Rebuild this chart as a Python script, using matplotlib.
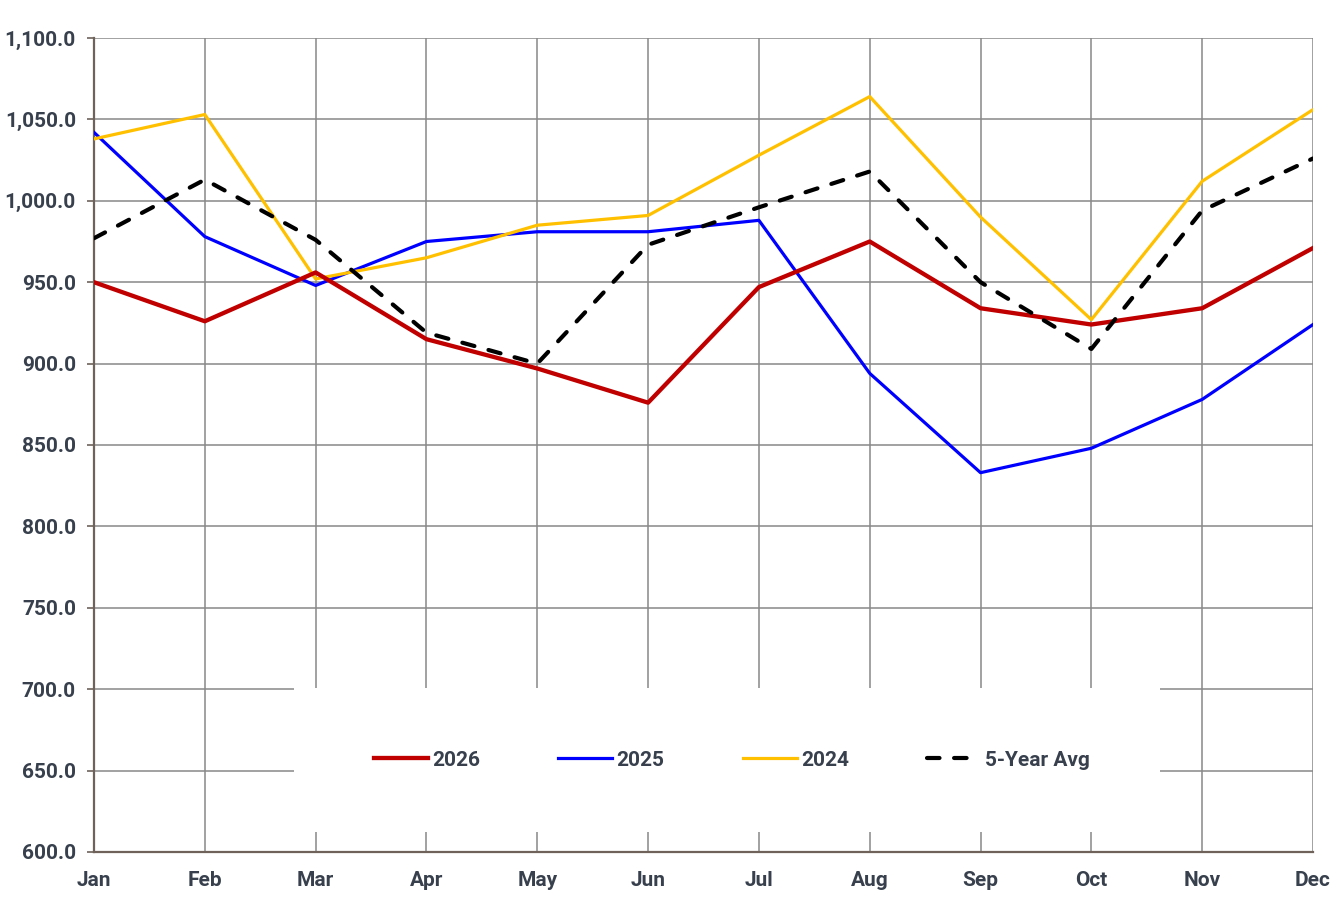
import matplotlib
matplotlib.use("Agg")
import matplotlib.pyplot as plt
from matplotlib.ticker import FuncFormatter, MultipleLocator
from matplotlib.patches import Rectangle

months = ["Jan", "Feb", "Mar", "Apr", "May", "Jun", "Jul", "Aug", "Sep", "Oct", "Nov", "Dec"]
s2026 = [950, 926, 956, 915, 897, 876, 947, 975, 934, 924, 934, 971]
s2025 = [1042, 978, 948, 975, 981, 981, 988, 894, 833, 848, 878, 924]
s2024 = [1038, 1053, 952, 965, 985, 991, 1028, 1064, 990, 927, 1012, 1056]
avg5 = [977, 1013, 976, 919, 900, 973, 996, 1018, 950, 909, 994, 1026]

plt.rcParams['font.family'] = ['Roboto', 'DejaVu Sans']
plt.rcParams['font.weight'] = 'bold'
txt = '#37404c'

fig = plt.figure(figsize=(13.43, 9.06), dpi=100)
ax = fig.add_axes([94/1343, 1-852/906, (1313-94)/1343, (852-38)/906])

x = list(range(len(months)))
ax.plot(x, s2026, color='#c00000', lw=3.1, label='2026', zorder=4, solid_joinstyle='round')
ax.plot(x, s2025, color='#0000ff', lw=2.3, label='2025', zorder=3, solid_joinstyle='round')
ax.plot(x, s2024, color='#ffc000', lw=2.3, label='2024', zorder=3, solid_joinstyle='round')
ax.plot(x, avg5, color='black', lw=3.0, linestyle=(0, (3, 3.5)), dash_capstyle='round',
        label='5-Year Avg', zorder=5)

ax.set_xlim(0, 11)
ax.set_ylim(600, 1100)
ax.set_xticks(x)
ax.set_xticklabels(months)
ax.yaxis.set_major_locator(MultipleLocator(50))
ax.yaxis.set_major_formatter(FuncFormatter(lambda v, p: f"{v:,.1f}"))

ax.grid(True, color='#888888', lw=1.1, zorder=0)
ax.set_axisbelow(True)
for s in ['top', 'right']:
    ax.spines[s].set_visible(False)
for s in ['left', 'bottom']:
    ax.spines[s].set_color('#6e625b')
    ax.spines[s].set_linewidth(1.6)

ax.tick_params(axis='y', length=5, width=1.2, color='#6e625b', pad=8, labelsize=15, labelcolor=txt)
ax.tick_params(axis='x', length=0, pad=14, labelsize=15, labelcolor=txt)
for lab in ax.get_xticklabels() + ax.get_yticklabels():
    lab.set_fontweight('bold')

# white legend background box
bx0, bx1 = (294-94)/1219, (1160-94)/1219
by0, by1 = (852-832)/814, (852-688)/814
ax.add_patch(Rectangle((bx0, by0), bx1-bx0, by1-by0, transform=ax.transAxes,
                       facecolor='white', edgecolor='none', zorder=6, clip_on=False))

leg = ax.legend(loc='center', bbox_to_anchor=((732-94)/1219, (852-760)/814), ncol=4,
                frameon=False, borderpad=0.5, handlelength=2.6, handletextpad=0.2,
                columnspacing=3.75, prop={'size': 15, 'weight': 'bold'})
for t in leg.get_texts():
    t.set_color(txt)
leg.set_zorder(10)

fig.savefig('out.png', dpi=100)
